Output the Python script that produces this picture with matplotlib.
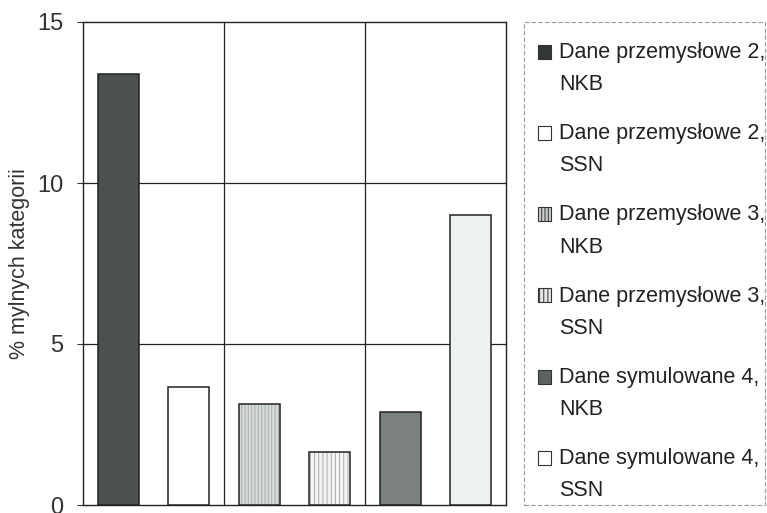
import matplotlib
matplotlib.use('Agg')
import matplotlib.pyplot as plt
from matplotlib.patches import Patch, Rectangle
from matplotlib.legend_handler import HandlerPatch

plt.rcParams['font.family'] = ['Liberation Sans', 'DejaVu Sans']
plt.rcParams['hatch.linewidth'] = 0.7

# data
labels = ['Dane przemysłowe 2,\nNKB', 'Dane przemysłowe 2,\nSSN',
          'Dane przemysłowe 3,\nNKB', 'Dane przemysłowe 3,\nSSN',
          'Dane symulowane 4,\nNKB', 'Dane symulowane 4,\nSSN']
values = [13.4, 3.65, 3.15, 1.65, 2.9, 9.0]
yticks = [0, 5, 10, 15]
ylabel = '% mylnych kategorii'

fills = ['#4b5050', '#ffffff', '#d6dbdb', '#f4f4f4', '#7b8181', '#eef1f1']
hatches = [None, None, '|||||', '||||', None, None]
legend_fills = ['#333636', '#ffffff', '#c9cdcd', '#e6e6e6', '#5d6262', '#ffffff']

fig = plt.figure(figsize=(7.67, 5.13), dpi=100)
ax = fig.add_axes([83/767, 8/513, 423/767, 483/513])

x = list(range(len(values)))
ax.bar(x, values, width=0.58, color=fills, edgecolor='#a8acac', hatch=hatches,
       linewidth=0, zorder=3)
ax.bar(x, values, width=0.58, fill=False, edgecolor='#222222', linewidth=1.1, zorder=4)

ax.set_xlim(-0.5, 5.5)
ax.set_ylim(0, 15)
ax.set_yticks(yticks)
ax.set_xticks([])
for yv in yticks[1:-1]:
    ax.axhline(yv, color='#222222', lw=0.9, zorder=1)
for xv in [1.5, 3.5]:
    ax.axvline(xv, color='#222222', lw=0.9, zorder=1)
for s in ax.spines.values():
    s.set_color('#222222')
    s.set_linewidth(1.0)
ax.tick_params(axis='y', length=4, width=0.8, pad=10, labelsize=17, colors='#333333')
ax.set_ylabel(ylabel, fontsize=15.5, color='#333333')
ax.yaxis.set_label_coords(-0.125, 0.5)

# dashed legend frame
fig.patches.append(Rectangle((524/767, 8/513), 241/767, 483/513, transform=fig.transFigure,
                             fill=False, edgecolor='#9a9a9a', lw=0.8, linestyle=(0, (4, 2))))


def first_line_square(legend, orig_handle, xdescent, ydescent, width, height, fontsize):
    return Rectangle((-xdescent, -ydescent + 0.8 * fontsize), width, height)


handles = [Patch(facecolor=legend_fills[i], edgecolor='#333333', hatch=hatches[i], linewidth=0.8)
           for i in range(len(values))]
leg = fig.legend(handles, labels, loc='upper left', bbox_to_anchor=(538/767, 1 - 42/513),
                 frameon=False, fontsize=15.5, handlelength=0.62, handleheight=0.62,
                 handletextpad=0.35, labelspacing=1.3, borderpad=0, borderaxespad=0,
                 handler_map={Patch: HandlerPatch(patch_func=first_line_square)})
for t in leg.get_texts():
    t.set_linespacing(1.7)
    t.set_color('#222222')

fig.savefig('out.png', dpi=100)
